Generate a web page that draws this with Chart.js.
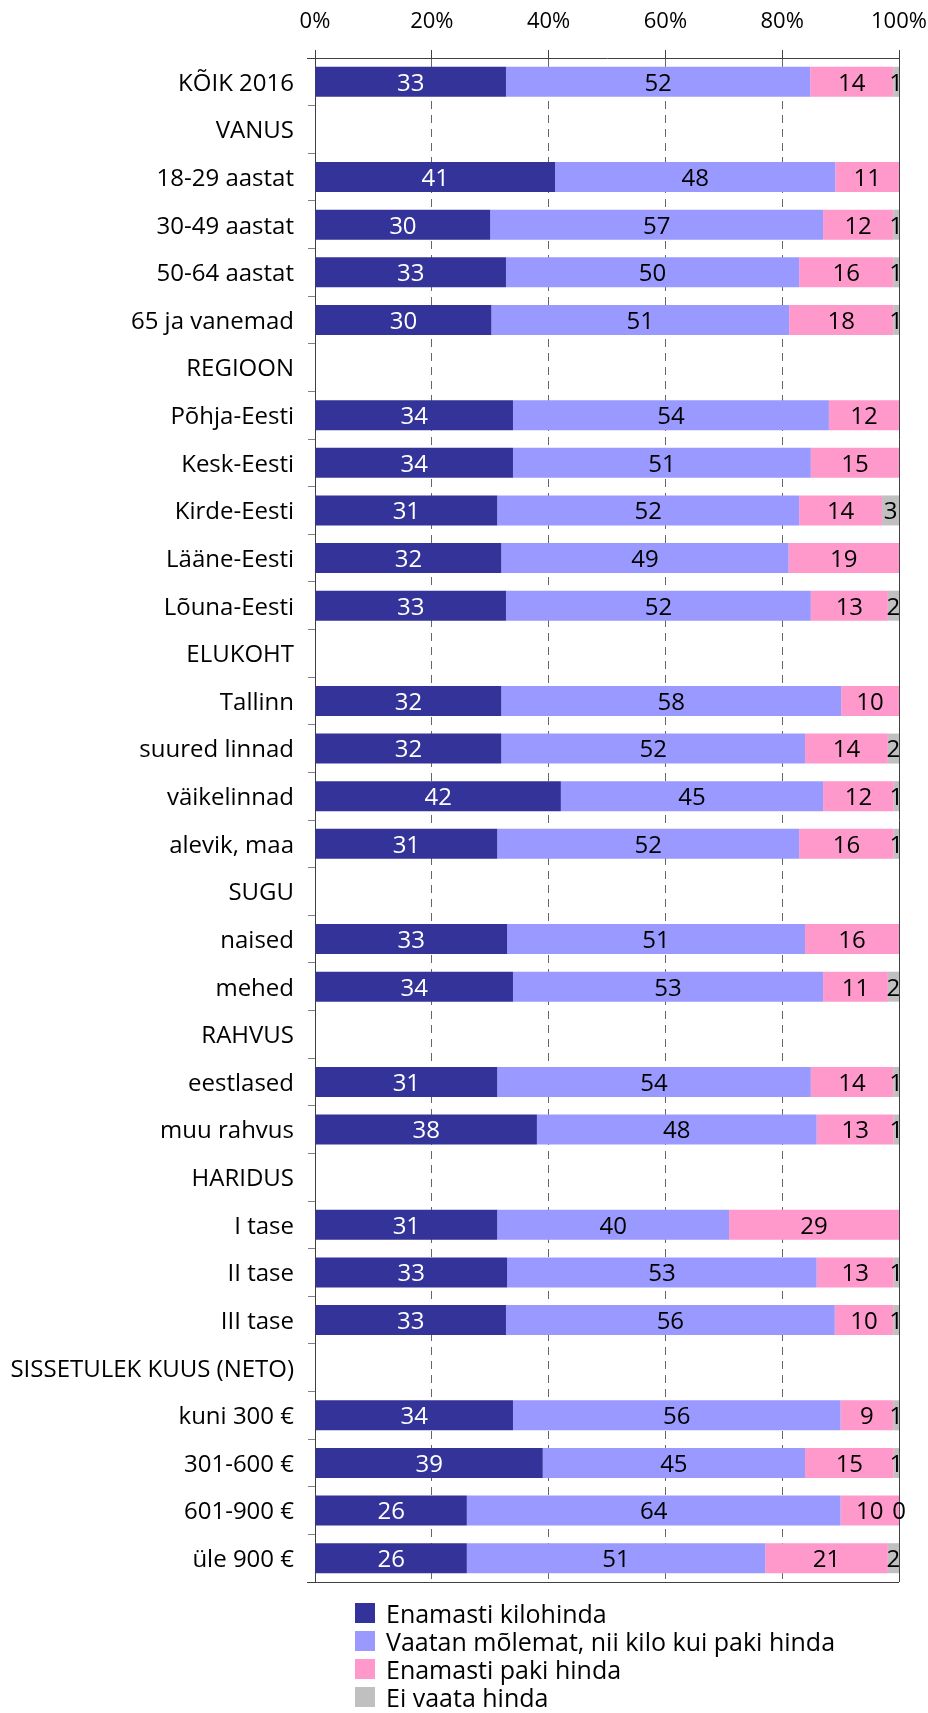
<!DOCTYPE html>
<html>
<head>
<meta charset="utf-8">
<script src="https://cdn.jsdelivr.net/npm/chart.js@4/dist/chart.umd.min.js"></script>
<style>
  html, body { margin: 0; padding: 0; background: #fff; }
  #wrap { position: relative; width: 928px; height: 1713px; }
  #c { position: absolute; left: 0; top: 0; }
  #legend { position: absolute; left: 355px; top: 1599px; font-family: "Open Sans", sans-serif; font-size: 25px; color: #000; }
  .item { display: flex; align-items: center; height: 28px; white-space: nowrap; }
  .sw { width: 20px; height: 20px; margin-right: 11px; flex: none; }
</style>
</head>
<body>
<div id="wrap">
  <canvas id="c" width="928" height="1713"></canvas>
  <div id="legend"></div>
</div>
<script>
const categories = [
  'KÕIK 2016', 'VANUS', '18-29 aastat', '30-49 aastat', '50-64 aastat', '65 ja vanemad',
  'REGIOON', 'Põhja-Eesti', 'Kesk-Eesti', 'Kirde-Eesti', 'Lääne-Eesti', 'Lõuna-Eesti',
  'ELUKOHT', 'Tallinn', 'suured linnad', 'väikelinnad', 'alevik, maa',
  'SUGU', 'naised', 'mehed',
  'RAHVUS', 'eestlased', 'muu rahvus',
  'HARIDUS', 'I tase', 'II tase', 'III tase',
  'SISSETULEK KUUS (NETO)', 'kuni 300 €', '301-600 €', '601-900 €', 'üle 900 €'
];
const seriesNames = ['Enamasti kilohinda', 'Vaatan mõlemat, nii kilo kui paki hinda', 'Enamasti paki hinda', 'Ei vaata hinda'];
const kilohinda = [32.7, null, 41.1, 30.0, 32.7, 30.2, null, 33.9, 33.9, 31.2, 31.9, 32.7, null, 31.9, 31.9, 42.1, 31.2, null, 32.9, 33.9, null, 31.2, 38.0, null, 31.2, 32.9, 32.7, null, 33.9, 39.0, 26.0, 26.0];
const molemat   = [52.1, null, 48.0, 57.0, 50.2, 51.0, null, 54.1, 51.0, 51.7, 49.2, 52.2, null, 58.2, 52.0, 44.9, 51.7, null, 51.0, 53.1, null, 53.7, 47.9, null, 39.7, 53.0, 56.3, null, 56.1, 44.9, 64.0, 51.1];
const pakihinda = [14.2, null, 10.9, 12.0, 16.1, 17.8, null, 12.0, 15.1, 14.2, 18.9, 13.2, null, 9.9, 14.2, 12.1, 16.2, null, 16.1, 11.1, null, 14.1, 13.2, null, 29.1, 13.2, 10.0, null, 9.0, 15.2, 10.0, 21.0];
const eiVaata   = [1.0, null, null, 1.0, 1.0, 1.0, null, null, null, 2.9, null, 1.9, null, null, 1.9, 0.9, 0.9, null, null, 1.9, null, 1.0, 0.9, null, null, 0.9, 1.0, null, 1.0, 0.9, 0, 1.9];
const tickLabels = ['0%', '20%', '40%', '60%', '80%', '100%'];
const colors = ['#333399', '#9999FF', '#FF99CC', '#C0C0C0'];

const FAMILY = '"Open Sans", sans-serif';
const FS = 24;

function build() {
  const font = { family: FAMILY, size: FS };

  const labelPlugin = {
    id: 'segLabels',
    afterDatasetsDraw(chart) {
      const ctx = chart.ctx;
      ctx.save();
      ctx.font = FS + 'px ' + FAMILY;
      ctx.textAlign = 'center';
      ctx.textBaseline = 'middle';
      chart.data.datasets.forEach((ds, i) => {
        const meta = chart.getDatasetMeta(i);
        meta.data.forEach((bar, j) => {
          const v = ds.data[j];
          if (v === null || v === undefined) return;
          const x = (bar.x + bar.base) / 2;
          ctx.fillStyle = i === 0 ? '#ffffff' : '#000000';
          ctx.fillText(String(Math.round(v)), x, bar.y + 2);
        });
      });
      ctx.restore();
    }
  };

  const framePlugin = {
    id: 'frame',
    afterDraw(chart) {
      const a = chart.chartArea, ctx = chart.ctx;
      ctx.save();
      ctx.strokeStyle = '#404040';
      ctx.lineWidth = 1;
      ctx.beginPath();
      ctx.moveTo(a.left - 8, Math.round(a.bottom) + 0.5);
      ctx.lineTo(a.right, Math.round(a.bottom) + 0.5);
      ctx.moveTo(a.left - 8, Math.round(a.top) + 0.5);
      ctx.lineTo(a.left, Math.round(a.top) + 0.5);
      ctx.stroke();
      ctx.restore();
    }
  };

  const seriesData = [kilohinda, molemat, pakihinda, eiVaata];
  new Chart(document.getElementById('c'), {
    type: 'bar',
    data: {
      labels: categories,
      datasets: seriesData.map((d, i) => ({
        label: seriesNames[i],
        data: d,
        backgroundColor: colors[i],
        borderWidth: 0,
        categoryPercentage: 1,
        barPercentage: 0.63
      }))
    },
    options: {
      indexAxis: 'y',
      responsive: false,
      animation: false,
      layout: { padding: { left: 0, right: 29, top: 0, bottom: 131 } },
      plugins: { legend: { display: false }, tooltip: { enabled: false } },
      scales: {
        x: {
          position: 'top',
          stacked: true,
          min: 0, max: 100,
          afterFit(s) { s.height = 58; s.paddingLeft = 0; s.paddingRight = 0; },
          afterBuildTicks(s) { s.ticks = tickLabels.map((t, k) => ({ value: k * 20 })); },
          ticks: {
            callback: (v, k) => tickLabels[k],
            color: '#000', font: { family: FAMILY, size: 22 }, padding: 15, maxRotation: 0
          },
          grid: {
            color: (c) => (c.index === 5 ? '#404040' : '#666666'),
            tickColor: '#404040',
            tickLength: 8,
            drawTicks: true
          },
          border: {
            display: true, color: '#404040', width: 1,
            dash: (c) => (c.index === 5 || c.index === 0 ? [] : [8, 6])
          }
        },
        y: {
          stacked: true,
          afterFit(s) { s.width = 315; s.paddingTop = 0; s.paddingBottom = 0; },
          ticks: { color: '#000', font: font, padding: 14, autoSkip: false, labelOffset: 2 },
          grid: { display: true, drawOnChartArea: false, drawTicks: true, tickLength: 7, color: '#808080', offset: true },
          border: { display: true, color: '#404040', width: 1 }
        }
      }
    },
    plugins: [labelPlugin, framePlugin]
  });

  const lg = document.getElementById('legend');
  seriesNames.forEach((n, i) => {
    const it = document.createElement('div');
    it.className = 'item';
    const sw = document.createElement('span');
    sw.className = 'sw';
    sw.style.background = colors[i];
    const tx = document.createElement('span');
    tx.textContent = n;
    it.appendChild(sw); it.appendChild(tx);
    lg.appendChild(it);
  });
}

if (document.fonts && document.fonts.load) {
  document.fonts.load('24px "Open Sans"').then(build, build);
} else {
  build();
}
</script>
</body>
</html>
